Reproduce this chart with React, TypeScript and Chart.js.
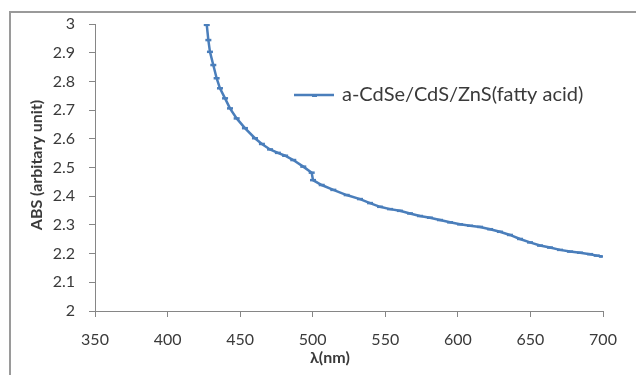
import React, { useEffect, useRef } from 'react';
import { Chart, registerables } from 'chart.js';

Chart.register(...registerables);

const wavelengths = [
  427, 428.1, 429.2, 431.5, 433.8, 436.1, 439.6, 443.0, 447.6, 453.3,
  460.2, 465.0, 470.6, 476.0, 481.0, 486.6, 493.5, 499.3, 500.2, 506.2,
  514.2, 523.4, 532.6, 539.5, 546.4, 553.3, 560.1, 567.0, 573.9, 580.8,
  587.7, 594.6, 601.5, 608.4, 615.3, 622.2, 629.0, 635.9, 642.8, 649.7,
  656.6, 663.5, 670.4, 677.3, 684.2, 691.1, 695.7, 699.3,
];
const absorbance = [
  2.997, 2.944, 2.903, 2.857, 2.811, 2.776, 2.741, 2.706, 2.671, 2.637,
  2.602, 2.582, 2.563, 2.551, 2.541, 2.526, 2.503, 2.482, 2.456, 2.439,
  2.422, 2.404, 2.39, 2.376, 2.363, 2.355, 2.349, 2.34, 2.331, 2.325,
  2.317, 2.309, 2.302, 2.297, 2.293, 2.285, 2.276, 2.265, 2.251, 2.239,
  2.228, 2.221, 2.213, 2.207, 2.203, 2.198, 2.193, 2.19,
];
const xTicks = [350, 400, 450, 500, 550, 600, 650, 700];
const yTicks = [2, 2.1, 2.2, 2.3, 2.4, 2.5, 2.6, 2.7, 2.8, 2.9, 3];
const seriesLabel = 'a-CdSe/CdS/ZnS(fatty acid)';
const xTitle = 'λ(nm)';
const yTitle = 'ABS (arbitary unit)';

const W = 636;
const H = 375;
const LINE_COLOR = '#4a7ebb';
const AXIS_COLOR = '#868686';
const TEXT_COLOR = '#3a3a3a';
const FONT = 'Lato, "Open Sans", sans-serif';

const decorPlugin = {
  id: 'decor',
  beforeDraw(chart: any) {
    const ctx = chart.ctx;
    ctx.save();
    ctx.fillStyle = '#ffffff';
    ctx.fillRect(0, 0, W, H);
    ctx.strokeStyle = '#9a9a9a';
    ctx.lineWidth = 2;
    ctx.strokeRect(10, 12, 800, 600);
    ctx.restore();
  },
  afterDraw(chart: any) {
    const ctx = chart.ctx;
    ctx.save();
    // legend
    const ly = 95;
    ctx.strokeStyle = LINE_COLOR;
    ctx.lineWidth = 2.5;
    ctx.beginPath();
    ctx.moveTo(294, ly);
    ctx.lineTo(334, ly);
    ctx.stroke();
    ctx.fillStyle = LINE_COLOR;
    ctx.fillRect(312, ly - 1, 5, 3);
    ctx.fillStyle = TEXT_COLOR;
    ctx.font = `20px ${FONT}`;
    ctx.textAlign = 'left';
    ctx.textBaseline = 'middle';
    ctx.fillText(seriesLabel, 342, ly);
    // x title
    ctx.font = `bold 16px ${FONT}`;
    ctx.textAlign = 'center';
    ctx.fillText(xTitle, 330, 358);
    // y title
    ctx.translate(37, 165);
    ctx.rotate(-Math.PI / 2);
    ctx.fillText(yTitle, 0, 0);
    ctx.restore();
  },
};

export default function App() {
  const canvasRef = useRef<HTMLCanvasElement | null>(null);

  useEffect(() => {
    if (!canvasRef.current) return;
    const points = wavelengths.map((x, i) => ({ x, y: absorbance[i] }));
    const chart = new Chart(canvasRef.current, {
      type: 'line',
      data: {
        datasets: [
          {
            label: seriesLabel,
            data: points,
            borderColor: LINE_COLOR,
            backgroundColor: LINE_COLOR,
            borderWidth: 2.5,
            pointStyle: 'line',
            pointRadius: 3,
            pointBorderWidth: 2.5,
            pointBorderColor: LINE_COLOR,
            tension: 0,
            fill: false,
          },
        ],
      },
      options: {
        animation: false,
        responsive: false,
        devicePixelRatio: 1,
        layout: { padding: { left: 0, top: 24, right: 33, bottom: 0 } },
        plugins: {
          legend: { display: false },
          tooltip: { enabled: false },
        },
        scales: {
          x: {
            type: 'linear',
            min: 350,
            max: 700,
            afterBuildTicks: (s: any) => {
              s.ticks = xTicks.map((v) => ({ value: v }));
            },
            afterFit: (s: any) => {
              s.height = H - 311;
            },
            ticks: {
              color: TEXT_COLOR,
              font: { family: FONT, size: 16 },
              padding: 13,
              maxRotation: 0,
              autoSkip: false,
            },
            grid: {
              drawOnChartArea: false,
              drawTicks: true,
              tickLength: 6,
              color: AXIS_COLOR,
            },
            border: { color: AXIS_COLOR, width: 1 },
          },
          y: {
            type: 'linear',
            min: 2,
            max: 3,
            afterBuildTicks: (s: any) => {
              s.ticks = yTicks.map((v) => ({ value: v }));
            },
            afterFit: (s: any) => {
              s.width = 95;
            },
            ticks: {
              color: TEXT_COLOR,
              font: { family: FONT, size: 16 },
              padding: 14,
              autoSkip: false,
              callback: (v: any) => String(Number(Number(v).toFixed(1))),
            },
            grid: {
              drawOnChartArea: false,
              drawTicks: true,
              tickLength: 6,
              color: AXIS_COLOR,
            },
            border: { color: AXIS_COLOR, width: 1 },
          },
        },
      },
      plugins: [decorPlugin],
    });
    return () => chart.destroy();
  }, []);

  return (
    <div style={{ position: 'fixed', left: 0, top: 0, width: W, height: H, background: '#fff' }}>
      <canvas ref={canvasRef} width={W} height={H} style={{ display: 'block' }} />
    </div>
  );
}
